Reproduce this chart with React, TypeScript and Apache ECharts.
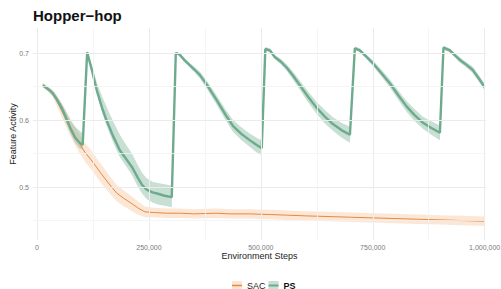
import React, { useEffect, useRef } from "react";
import * as echarts from "echarts";

const title = "Hopper−hop";
const xTitle = "Environment Steps";
const yTitle = "Feature Activity";
const xTickValues = [0, 250000, 500000, 750000, 1000000];
const xMinorGrid = [125000, 375000, 625000, 875000];
const yTickValues = [0.5, 0.6, 0.7];
const yMinorGrid = [0.45, 0.55, 0.65];

const psSteps = [13000, 25000, 35000, 45000, 56000, 67000, 75000, 85000, 95000, 102000,
  112000, 122000, 134000, 145000, 155000, 170000, 185000, 200000, 212000, 225000, 235000, 245000, 258000, 270000, 285000, 301000,
  310000, 318000, 330000, 341000, 352000, 364000, 380000, 401000, 420000, 438000, 457000, 475000, 490000, 502000,
  510000, 520000, 531000, 545000, 558000, 572000, 587000, 605000, 625000, 643000, 661000, 680000, 699000,
  710000, 721000, 735000, 750000, 768000, 788000, 807000, 826000, 844000, 862000, 881000, 900000,
  908000, 922000, 933000, 944000, 958000, 973000, 987000, 1000000];
const psMean = [0.652, 0.646, 0.640, 0.630, 0.617, 0.600, 0.587, 0.574, 0.566, 0.563,
  0.701, 0.676, 0.643, 0.619, 0.600, 0.576, 0.555, 0.541, 0.530, 0.514, 0.503, 0.496, 0.492, 0.490, 0.487, 0.485,
  0.700, 0.698, 0.689, 0.682, 0.675, 0.667, 0.652, 0.630, 0.609, 0.591, 0.579, 0.570, 0.563, 0.558,
  0.706, 0.704, 0.694, 0.687, 0.678, 0.666, 0.652, 0.635, 0.618, 0.605, 0.594, 0.585, 0.578,
  0.707, 0.704, 0.695, 0.685, 0.671, 0.655, 0.637, 0.620, 0.607, 0.596, 0.588, 0.581,
  0.708, 0.704, 0.697, 0.690, 0.683, 0.675, 0.662, 0.649];
const psLower = [0.649, 0.643, 0.636, 0.625, 0.610, 0.592, 0.579, 0.566, 0.558, 0.556,
  0.698, 0.672, 0.638, 0.612, 0.592, 0.567, 0.545, 0.530, 0.518, 0.501, 0.490, 0.482, 0.477, 0.474, 0.472, 0.470,
  0.698, 0.696, 0.686, 0.679, 0.671, 0.662, 0.646, 0.623, 0.601, 0.582, 0.570, 0.560, 0.552, 0.547,
  0.703, 0.701, 0.691, 0.683, 0.673, 0.660, 0.645, 0.627, 0.609, 0.595, 0.584, 0.574, 0.566,
  0.704, 0.701, 0.692, 0.681, 0.666, 0.649, 0.630, 0.612, 0.598, 0.587, 0.578, 0.570,
  0.705, 0.701, 0.694, 0.686, 0.679, 0.670, 0.657, 0.644];
const psUpper = [0.655, 0.649, 0.644, 0.636, 0.624, 0.610, 0.599, 0.590, 0.584, 0.580,
  0.704, 0.682, 0.655, 0.636, 0.620, 0.598, 0.578, 0.562, 0.550, 0.533, 0.521, 0.513, 0.508, 0.506, 0.504, 0.502,
  0.702, 0.700, 0.692, 0.685, 0.679, 0.672, 0.658, 0.637, 0.617, 0.600, 0.589, 0.580, 0.574, 0.569,
  0.709, 0.707, 0.697, 0.691, 0.683, 0.672, 0.659, 0.643, 0.627, 0.615, 0.604, 0.596, 0.590,
  0.710, 0.707, 0.698, 0.689, 0.676, 0.661, 0.644, 0.628, 0.616, 0.605, 0.598, 0.592,
  0.711, 0.707, 0.700, 0.694, 0.687, 0.680, 0.667, 0.654];

const sacSteps = [13000, 25000, 35000, 47000, 60000, 74000, 90000, 107000, 125000, 141000, 163000, 178000, 192000,
  210000, 225000, 241000, 260000, 290000, 320000, 350000, 400000, 430000, 475000, 520000, 560000, 600000, 650000,
  700000, 750000, 800000, 850000, 900000, 950000, 1000000];
const sacMean = [0.652, 0.646, 0.640, 0.625, 0.608, 0.590, 0.570, 0.552, 0.537, 0.522, 0.503, 0.491, 0.484,
  0.476, 0.469, 0.463, 0.462, 0.461, 0.461, 0.460, 0.461, 0.460, 0.460, 0.459, 0.458, 0.457, 0.456,
  0.455, 0.454, 0.453, 0.452, 0.451, 0.450, 0.449];
const sacLower = [0.649, 0.642, 0.635, 0.617, 0.597, 0.577, 0.556, 0.538, 0.523, 0.508, 0.490, 0.479, 0.472,
  0.465, 0.459, 0.455, 0.455, 0.454, 0.454, 0.453, 0.454, 0.453, 0.453, 0.452, 0.451, 0.450, 0.449,
  0.448, 0.447, 0.446, 0.445, 0.444, 0.443, 0.442];
const sacUpper = [0.655, 0.650, 0.645, 0.633, 0.619, 0.603, 0.584, 0.566, 0.551, 0.536, 0.516, 0.503, 0.496,
  0.487, 0.479, 0.471, 0.469, 0.468, 0.468, 0.467, 0.468, 0.467, 0.467, 0.466, 0.465, 0.464, 0.463,
  0.462, 0.461, 0.460, 0.459, 0.458, 0.457, 0.456];

const PS_LINE = "#6EAA8E";
const PS_BAND = "rgba(110,170,142,0.38)";
const SAC_LINE = "#E8893C";
const SAC_BAND = "rgba(243,170,110,0.28)";
const FONT = "Liberation Sans";

function bandSeries(name: string, steps: number[], lower: number[], upper: number[], color: string, z: number) {
  return {
    type: "custom",
    name,
    z,
    silent: true,
    data: steps.map((s, i) => [s, lower[i], upper[i]]),
    encode: { x: 0, y: [1, 2] },
    renderItem: (params: any, api: any) => {
      if (params.dataIndex !== 0) return null;
      const pts: number[][] = [];
      for (let i = 0; i < steps.length; i++) pts.push(api.coord([steps[i], upper[i]]));
      for (let i = steps.length - 1; i >= 0; i--) pts.push(api.coord([steps[i], lower[i]]));
      return { type: "polygon", shape: { points: pts }, style: { fill: color } };
    },
  };
}

export default function App() {
  const ref = useRef<HTMLDivElement>(null);
  useEffect(() => {
    const chart = echarts.init(ref.current!, undefined, { renderer: "svg" });
    const gridLines = [
      ...xTickValues.map((v) => ({ xAxis: v, lineStyle: { color: "#ebebeb", width: 1 } })),
      ...xMinorGrid.map((v) => ({ xAxis: v, lineStyle: { color: "#f2f2f2", width: 0.8 } })),
      ...yTickValues.map((v) => ({ yAxis: v, lineStyle: { color: "#ebebeb", width: 1 } })),
      ...yMinorGrid.map((v) => ({ yAxis: v, lineStyle: { color: "#f2f2f2", width: 0.8 } })),
    ];
    const linePath = (h: number) =>
      `path://M0,0h0.01v0.01h-0.01z M0,8.99h0.01v0.01h-0.01z M9.99,0h0.01v0.01h-0.01z M0,${4.5 - h / 2}h10v${h}h-10z`;
    chart.setOption({
      animation: false,
      backgroundColor: "#ffffff",
      textStyle: { fontFamily: FONT },
      title: {
        text: title,
        left: 28,
        top: 3,
        textStyle: { fontFamily: FONT, fontSize: 15, fontWeight: "bold", color: "#111" },
      },
      grid: { left: 33, right: 15, top: 28, bottom: 49, containLabel: false, outerBoundsMode: "none" },
      legend: [
        {
          left: 227,
          top: 276,
          itemWidth: 10,
          itemHeight: 9,
          itemGap: 3,
          icon: "rect",
          textStyle: { fontFamily: FONT, fontSize: 9, color: "#222" },
          data: [
            { name: "SAC", itemStyle: { color: SAC_BAND } },
            { name: "PS", itemStyle: { color: PS_BAND }, textStyle: { fontWeight: "bold", color: "#111" } },
          ],
        },
        {
          left: 227,
          top: 276,
          itemWidth: 10,
          itemHeight: 9,
          itemGap: 3,
          textStyle: { fontFamily: FONT, fontSize: 9, color: "rgba(0,0,0,0)" },
          data: [
            { name: "SAC", icon: linePath(1.4), itemStyle: { color: SAC_LINE } },
            { name: "PS", icon: linePath(2), itemStyle: { color: PS_LINE }, textStyle: { fontWeight: "bold", color: "rgba(0,0,0,0)" } },
          ],
        },
      ],
      xAxis: {
        type: "value",
        min: -9000,
        max: 1003000,
        name: xTitle,
        nameLocation: "middle",
        nameGap: 11,
        nameMoveOverlap: false,
        nameTextStyle: { fontFamily: FONT, fontSize: 9, color: "#222" },
        axisLine: { show: false },
        axisTick: { show: false },
        splitLine: { show: false },
        axisLabel: {
          customValues: xTickValues,
          margin: 4,
          fontSize: 7,
          color: "#7a7a7a",
          fontFamily: FONT,
          formatter: (v: number) => v.toLocaleString("en-US"),
        },
      },
      yAxis: {
        type: "value",
        min: 0.421,
        max: 0.7373,
        name: yTitle,
        nameLocation: "middle",
        nameGap: 16,
        nameMoveOverlap: false,
        nameRotate: 90,
        nameTextStyle: { fontFamily: FONT, fontSize: 9, color: "#222" },
        axisLine: { show: false },
        axisTick: { show: false },
        splitLine: { show: false },
        axisLabel: {
          customValues: yTickValues,
          margin: 4,
          fontSize: 7,
          color: "#7a7a7a",
          fontFamily: FONT,
          formatter: (v: number) => v.toFixed(1),
        },
      },
      series: [
        {
          type: "line",
          name: "grid",
          z: 0,
          data: [],
          silent: true,
          markLine: {
            silent: true,
            symbol: ["none", "none"],
            label: { show: false },
            lineStyle: { type: "solid" },
            data: gridLines,
          },
        },
        bandSeries("SAC band", sacSteps, sacLower, sacUpper, SAC_BAND, 1),
        bandSeries("PS band", psSteps, psLower, psUpper, PS_BAND, 1),
        {
          type: "line",
          name: "SAC",
          z: 2,
          showSymbol: false,
          color: SAC_LINE,
          lineStyle: { color: SAC_LINE, width: 1 },
          data: sacSteps.map((s, i) => [s, sacMean[i]]),
        },
        {
          type: "line",
          name: "PS",
          z: 3,
          showSymbol: false,
          color: PS_LINE,
          lineStyle: { color: PS_LINE, width: 2.4 },
          data: psSteps.map((s, i) => [s, psMean[i]]),
        },
      ],
    });
    return () => chart.dispose();
  }, []);
  return <div ref={ref} style={{ position: "absolute", left: 0, top: 0, width: 501, height: 289 }} />;
}
